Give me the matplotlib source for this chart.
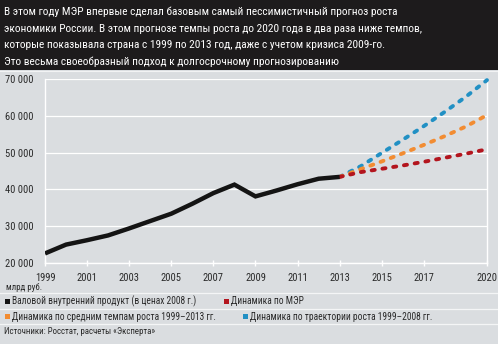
import matplotlib
matplotlib.use("Agg")
import matplotlib.pyplot as plt
from matplotlib import font_manager as fm
from matplotlib.patches import Rectangle
from matplotlib.lines import Line2D

# ВВП в ценах 2008 г., млрд руб.
years_hist = list(range(1999, 2014))
gdp_hist = [22600, 25000, 26200, 27500, 29400, 31400, 33400, 36100,
            39000, 41300, 38100, 39700, 41400, 42900, 43400]

# прогнозы 2013-2020
years_fc = list(range(2013, 2021))
fc_mer = [43400, 44700, 45600, 46500, 47500, 48600, 49700, 50900]
fc_avg = [43400, 45500, 47600, 49800, 52100, 54500, 57100, 60200]
fc_trend = [43400, 46300, 49900, 53500, 57200, 61100, 65200, 69700]

xticks = [1999, 2001, 2003, 2005, 2007, 2009, 2011, 2013, 2015, 2017, 2020]
yticks = [20000, 30000, 40000, 50000, 60000, 70000]
ytick_labels = ["20 000", "30 000", "40 000", "50 000", "60 000", "70 000"]

title_lines = [
    "В этом году МЭР впервые сделал базовым самый пессимистичный прогноз роста",
    "экономики России. В этом прогнозе темпы роста до 2020 года в два раза ниже темпов,",
    "которые показывала страна с 1999 по 2013 год, даже с учетом кризиса 2009-го.",
    "Это весьма своеобразный подход к долгосрочному прогнозированию",
]
legend_labels = [
    "Валовой внутренний продукт (в ценах 2008 г.)",
    "Динамика по МЭР",
    "Динамика по средним темпам роста 1999–2013 гг.",
    "Динамика по траектории роста 1999–2008 гг.",
]
unit_label = "млрд руб."
source_label = "Источники: Росстат, расчеты «Эксперта»"

BLACK = "#141414"
RED = "#b3151e"
ORANGE = "#f28c32"
BLUE = "#2190c4"
BG = "#dadde0"
TXT = "#2a2a2a"


def pick_font():
    # узкий шрифт, если есть; иначе Roboto / Liberation Sans
    prefs = ["roboto condensed", "liberation sans narrow", "noto sans",
             "dejavu sans", "open sans", "arial narrow"]
    found = []
    for f in fm.fontManager.ttflist:
        name = (f.name + " " + f.fname).lower()
        if not ("condensed" in name or "narrow" in name):
            continue
        if "mono" in name or "serif" in f.name.lower() or f.style != "normal":
            continue
        if f.weight not in (400, "normal", "regular", "book"):
            continue
        rank = next((i for i, p in enumerate(prefs) if p in name), len(prefs))
        found.append((rank, f.fname))
    if found:
        found.sort()
        return fm.FontProperties(fname=found[0][1])
    for fam in ["Roboto", "Liberation Sans"]:
        try:
            path = fm.findfont(fm.FontProperties(family=fam), fallback_to_default=False)
            return fm.FontProperties(fname=path)
        except Exception:
            pass
    return fm.FontProperties(family="DejaVu Sans")


W, H = 498, 344
fig = plt.figure(figsize=(W / 100, H / 100), dpi=100)
fig.patch.set_facecolor(BG)
renderer = fig.canvas.get_renderer()
base_fp = pick_font()


def fit_font(text, target_px):
    fp = base_fp.copy()
    fp.set_size(10)
    t = fig.text(0, 0, text, fontproperties=fp)
    w = t.get_window_extent(renderer).width
    t.remove()
    fp.set_size(10 * target_px / w)
    return fp


def fx(px):
    return px / W


def fy(py):
    return 1 - py / H


fp_title = fit_font(title_lines[1], 419)
fp_tick = fit_font("70 000", 28)
fp_leg = fit_font(legend_labels[0], 184)
fp_unit = fit_font(unit_label, 36)
fp_src = fit_font(source_label, 152)

# тёмная плашка с заголовком
fig.add_artist(Rectangle((0, fy(70)), 1, 70 / H, transform=fig.transFigure,
                         facecolor="#1d1b1c", edgecolor="none", zorder=0))
fig.add_artist(Line2D([0, 1], [fy(70.5), fy(70.5)], transform=fig.transFigure,
                      color="#f2f3f4", lw=0.8))
for i, line in enumerate(title_lines):
    fig.text(fx(4), fy(12 + i * 16.5), line, color="white", fontproperties=fp_title,
             ha="left", va="center")

ax = fig.add_axes([fx(45), fy(263), fx(442), 184 / H])
ax.set_facecolor("none")

dash = (0, (0.8, 2.0))
ax.plot(years_fc, fc_trend, color=BLUE, lw=2.8, linestyle=dash,
        dash_capstyle="round", clip_on=False, zorder=3)
ax.plot(years_fc, fc_avg, color=ORANGE, lw=2.8, linestyle=dash,
        dash_capstyle="round", clip_on=False, zorder=3)
ax.plot(years_fc, fc_mer, color=RED, lw=2.8, linestyle=dash,
        dash_capstyle="round", clip_on=False, zorder=3)
ax.plot(years_hist, gdp_hist, color=BLACK, lw=3.2, solid_capstyle="butt",
        solid_joinstyle="miter", zorder=4)

ax.set_xlim(1999, 2020)
ax.set_ylim(20000, 70000)
ax.set_xticks(xticks)
ax.set_xticklabels([str(x) for x in xticks], color=TXT)
ax.set_yticks(yticks)
ax.set_yticklabels(ytick_labels, color=TXT)
for lab in ax.get_xticklabels() + ax.get_yticklabels():
    lab.set_fontproperties(fp_tick)
for lab in ax.get_yticklabels():
    lab.set_horizontalalignment("left")
ax.tick_params(axis="y", length=0, pad=28.8)
ax.tick_params(axis="x", direction="inout", length=5, width=1, color="white", pad=5)

ax.grid(axis="y", color="white", lw=0.9)
ax.set_axisbelow(True)
for side in ["left", "right", "bottom"]:
    ax.spines[side].set_color("white")
    ax.spines[side].set_linewidth(1.0)
ax.spines["top"].set_visible(False)

# подписи под графиком
fig.text(fx(6), fy(287), unit_label, fontproperties=fp_unit, color=TXT,
         ha="left", va="center")
for py in [292.5, 309, 323.5]:
    fig.add_artist(Line2D([0, 1], [fy(py), fy(py)], transform=fig.transFigure,
                          color="#f4f5f6", lw=0.9))

legend_pos = [(5, 301.5), (224, 301.5), (5, 316.5), (243, 316.5)]
legend_colors = [BLACK, RED, ORANGE, BLUE]
for (px, py), color, label in zip(legend_pos, legend_colors, legend_labels):
    fig.add_artist(Rectangle((fx(px), fy(py + 2.3)), fx(4.6), 4.6 / H,
                             transform=fig.transFigure, facecolor=color,
                             edgecolor="none"))
    fig.text(fx(px + 6.5), fy(py), label, fontproperties=fp_leg, color=TXT,
             ha="left", va="center")

fig.text(fx(4), fy(331), source_label, fontproperties=fp_src,
         color=TXT, ha="left", va="center")

fig.savefig("out.png", dpi=100, facecolor=BG)
